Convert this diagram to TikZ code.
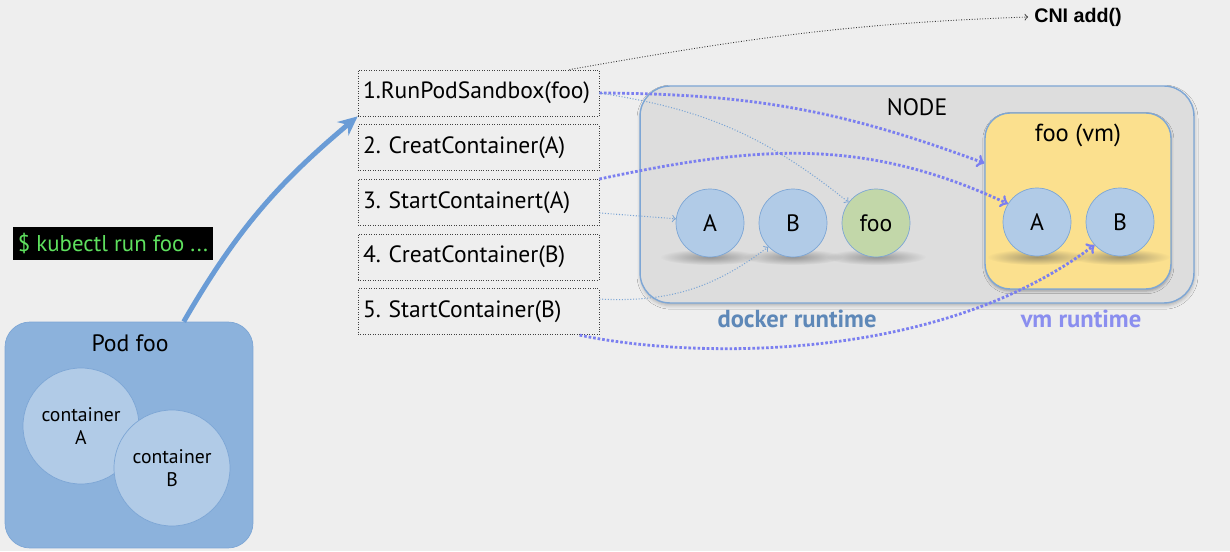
\documentclass[tikz,border=0pt]{standalone}
\usepackage{fontspec}
\setmainfont{PT Sans}
\newfontfamily\cnifont{Liberation Sans}
\usetikzlibrary{positioning,calc,arrows,arrows.meta,shadows.blur,fadings}
\definecolor{bgGray}{HTML}{EEEEEE}
\definecolor{podBlue}{HTML}{8CB2DC}
\definecolor{edgeBlue}{HTML}{7DA6D5}
\definecolor{kubeBlue}{HTML}{6A9CD6}
\definecolor{ctrBlue}{HTML}{B1CBE7}
\definecolor{nodeGray}{HTML}{DDDDDD}
\definecolor{vmYellow}{HTML}{FBE08E}
\definecolor{fooGreen}{HTML}{C2D7A9}
\definecolor{dockerText}{HTML}{5E88B8}
\definecolor{lavender}{HTML}{7B7FF0}
\definecolor{vmText}{HTML}{8A8EEF}
\definecolor{termGreen}{HTML}{5EE05E}
\frenchspacing
\tikzfading[name=softshadow, inner color=transparent!50, outer color=transparent!100]
\tikzset{
    >=stealth, % heads of the connectors
    stepbox/.style={draw=black!75, densely dotted, fill=bgGray, align=left,
        text width=4.62cm, inner xsep=0.1cm, minimum height=0.92cm,
        font=\fontsize{13.4}{15}\selectfont},
    podbox/.style={draw=edgeBlue, fill=podBlue, rounded corners=0.5cm,
        minimum width=4.96cm, minimum height=4.52cm},
    podcircle/.style={circle, draw=edgeBlue, fill=ctrBlue, minimum size=2.32cm,
        inner sep=0pt, align=center, font=\fontsize{11.2}{13}\selectfont},
    cmdbox/.style={fill=black, text=termGreen, minimum width=4cm, minimum height=0.66cm,
        inner sep=0pt, font=\fontsize{13}{14}\selectfont},
    nodebox/.style={draw=edgeBlue, fill=nodeGray, rounded corners=0.6cm, line width=0.8pt,
        minimum width=11.08cm, minimum height=4.34cm,
        blur shadow={shadow xshift=0.3pt, shadow yshift=-1.5pt, shadow opacity=25,
            shadow blur radius=2pt}},
    vmbox/.style={draw=edgeBlue, fill=vmYellow, rounded corners=0.5cm, line width=0.8pt,
        minimum width=3.72cm, minimum height=3.52cm,
        blur shadow={shadow xshift=0.2pt, shadow yshift=-1.2pt, shadow opacity=30,
            shadow blur radius=1.5pt}},
    ctr/.style={circle, draw=edgeBlue, fill=ctrBlue, minimum size=1.36cm, inner sep=0pt,
        font=\fontsize{13.5}{15}\selectfont},
    title/.style={font=\fontsize{13.5}{15}\selectfont},
    runtime/.style={font=\bfseries\fontsize{14}{16}\selectfont},
    kubearrow/.style={draw=kubeBlue, line width=2.8pt, -{Stealth[length=11pt,width=10pt]}},
    vmcall/.style={draw=lavender, line width=1.6pt, dash pattern=on 1.5pt off 1.1pt, -to},
    dockcall/.style={draw=edgeBlue, line width=0.6pt, densely dotted, -to},
    cniarrow/.style={draw=black!80, line width=0.5pt, densely dotted, -to},
}
\begin{document}
\begin{tikzpicture}[x=0.02cm,y=0.02cm]
\useasboundingbox (0,0) rectangle (1230,551);
\fill[bgGray] (0,0) rectangle (1230,551);

% the pod and the command
\node[podbox] (pod) at (129,116) {};
\node[title] (podname) at (130,208) {Pod foo};
\node[podcircle] (ca) at (81,125) {container\\A};
\node[podcircle] (cb) at (172,83) {container\\B};
\node[cmdbox] (cmd) at (113,307.5) {\$ kubectl run foo ...};

% calls to the runtime
\node[stepbox] (s1) at (478.5,458) {1.RunPodSandbox(foo)};
\node[stepbox, below=0.16cm of s1] (s2) {2. CreatContainer(A)};
\node[stepbox, below=0.16cm of s2] (s3) {3. StartContainert(A)};
\node[stepbox, below=0.16cm of s3] (s4) {4. CreatContainer(B)};
\node[stepbox, below=0.16cm of s4] (s5) {5. StartContainer(B)};

% the node with both runtimes
\node[nodebox] (node) at (917,356.5) {};
\node[title] (nodename) at (917,444) {NODE};
\node[vmbox] (vm) at (1078,350) {};
\node[title, font=\fontsize{14}{16}\selectfont] (vmname) at (1078,416) {foo (vm)};
\foreach \x in {710,793,876,1037,1120}
    \fill[black!70, path fading=softshadow] (\x,294) ellipse [x radius=50, y radius=8];
\node[ctr] (dA) at (710,328) {A};
\node[ctr] (dB) at (793,328) {B};
\node[ctr, fill=fooGreen] (dfoo) at (876,328) {foo};
\node[ctr] (vA) at (1037,329) {A};
\node[ctr] (vB) at (1120,329) {B};
\node[runtime, text=dockerText] (dlabel) at (797,232) {docker runtime};
\node[runtime, text=vmText] (vlabel) at (1081,232) {vm runtime};
\node[font=\cnifont\bfseries\fontsize{11.2}{13}\selectfont] (cni) at (1078,534) {CNI add()};

% connectors
\draw[kubearrow] ($(pod.north)!0.44!(pod.north east)$) to[out=60,in=220] (s1.south west);
\draw[cniarrow] ([xshift=-0.6cm]s1.north east) to[out=10,in=182] (cni.west);
\draw[vmcall] (s1.east) to[bend left=10] (vm.158);
\draw[dockcall] (s1.east) to[bend left=15] (dfoo.143);
\draw[vmcall] (s3.north east) to[out=12,in=155] (vA.148);
\draw[dockcall] (s3.-5) -- (dA.173);
\draw[dockcall] (s5.6) to[bend right=20] (dB.224);
\draw[vmcall] (s5.-13) to[out=-12,in=217,out distance=2.2cm,in distance=4cm] (vB.222);
\end{tikzpicture}
\end{document}
